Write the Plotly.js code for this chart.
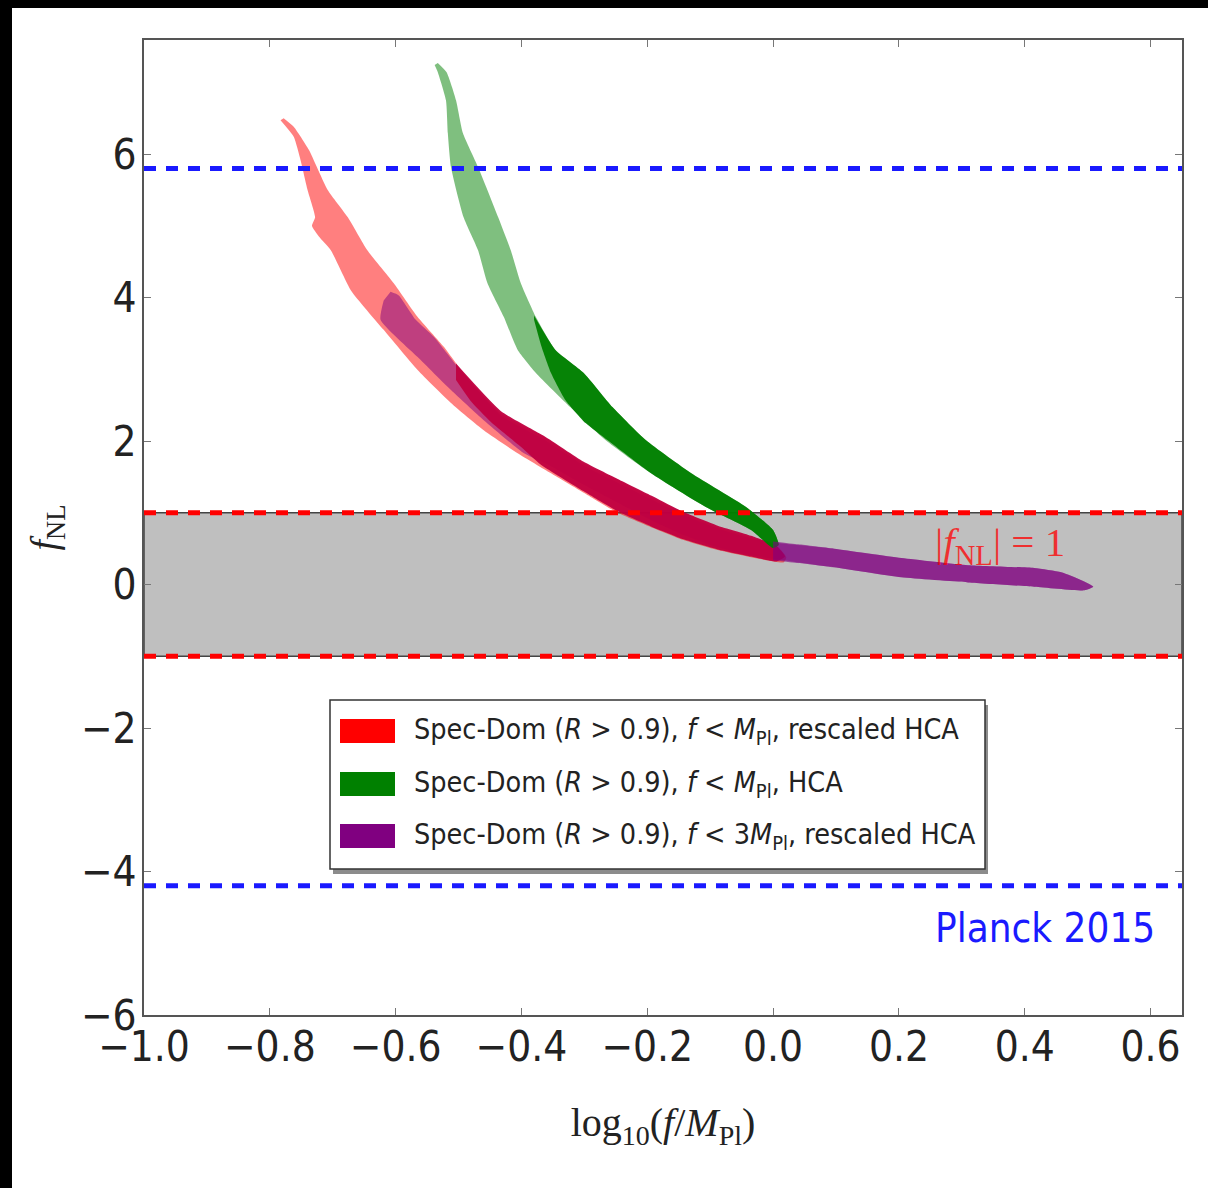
<!DOCTYPE html>
<html>
<head>
<meta charset="utf-8">
<script src="https://cdn.plot.ly/plotly-3.0.1.min.js"></script>
<style>
  html, body { margin: 0; padding: 0; background: #000; width: 1208px; height: 1188px; overflow: hidden; }
  #plot { position: absolute; left: 12px; top: 8px; width: 1196px; height: 1180px; background: #fff; }
</style>
</head>
<body>
<div id="plot"></div>
<script>
// ---------------- data ----------------
// Spec-Dom, f < M_Pl, rescaled HCA  (outer envelope of the point cloud)
const redX = [-0.778,-0.762,-0.738,-0.708,-0.676,-0.645,-0.603,-0.565,-0.523,-0.496,-0.433,-0.364,-0.301,-0.247,-0.194,-0.142,-0.088,-0.035,0.008,0.021,
              0.017,-0.035,-0.088,-0.142,-0.194,-0.247,-0.301,-0.353,-0.406,-0.460,-0.512,-0.565,-0.619,-0.671,-0.703,-0.722,-0.733,-0.728,-0.740,-0.751,-0.762,-0.783];
const redY = [6.50,6.38,6.06,5.50,5.12,4.66,4.20,3.73,3.31,2.99,2.39,2.06,1.69,1.46,1.22,1.00,0.80,0.66,0.52,0.38,
              0.31,0.38,0.48,0.62,0.80,1.00,1.28,1.55,1.83,2.15,2.53,2.99,3.55,4.10,4.66,4.85,5.00,5.12,5.50,5.91,6.24,6.47];
// dense core of the same cloud
const redCoreX = [-0.504,-0.433,-0.364,-0.301,-0.247,-0.194,-0.142,-0.088,-0.035,0.005,0.019,
                  0.005,-0.035,-0.088,-0.142,-0.194,-0.247,-0.301,-0.369,-0.401,-0.449,-0.480,-0.504];
const redCoreY = [3.08,2.42,2.07,1.71,1.47,1.24,1.01,0.82,0.68,0.54,0.39,
                  0.32,0.39,0.49,0.63,0.81,1.02,1.30,1.67,1.92,2.27,2.55,2.85];

// Spec-Dom, f < M_Pl, HCA
const greenX = [-0.533,-0.519,-0.504,-0.493,-0.469,-0.437,-0.417,-0.401,-0.377,-0.346,-0.301,-0.255,-0.202,-0.130,-0.043,0.000,0.009,
                0.000,-0.035,-0.107,-0.194,-0.266,-0.322,-0.377,-0.406,-0.428,-0.454,-0.469,-0.492,-0.512,-0.517,-0.520,-0.533,-0.538];
const greenY = [7.27,7.14,6.75,6.29,5.82,5.12,4.66,4.20,3.73,3.27,2.95,2.47,2.01,1.55,1.08,0.76,0.55,
                0.51,0.76,1.08,1.55,2.01,2.47,2.95,3.27,3.73,4.20,4.66,5.12,5.82,6.29,6.75,7.14,7.24];
const greenCoreX = [-0.380,-0.346,-0.301,-0.255,-0.202,-0.130,-0.043,0.000,0.009,
                    0.000,-0.035,-0.107,-0.194,-0.263,-0.298,-0.330,-0.353,-0.369,-0.380];
const greenCoreY = [3.75,3.27,2.95,2.47,2.01,1.55,1.08,0.76,0.55,
                    0.51,0.76,1.08,1.55,2.01,2.25,2.57,2.95,3.34,3.69];

// Spec-Dom, f < 3 M_Pl, rescaled HCA
const purpleX = [-0.608,-0.595,-0.568,-0.539,-0.500,-0.433,-0.364,-0.301,-0.247,-0.194,-0.142,-0.088,-0.035,0.008,0.097,0.204,0.310,0.415,0.458,0.490,0.509,
                 0.495,0.415,0.310,0.204,0.097,0.017,-0.035,-0.088,-0.142,-0.194,-0.247,-0.301,-0.353,-0.396,-0.460,-0.512,-0.565,-0.624,-0.619];
const purpleY = [4.08,4.03,3.69,3.45,3.02,2.36,2.02,1.66,1.42,1.19,0.97,0.78,0.64,0.58,0.50,0.37,0.27,0.23,0.17,0.06,-0.03,
                 -0.08,-0.03,0.03,0.10,0.24,0.34,0.41,0.52,0.69,0.90,1.14,1.39,1.65,1.83,2.29,2.71,3.17,3.69,3.96];
const purpleCoreX = [0.000,0.040,0.097,0.204,0.310,0.415,0.458,0.490,0.509,
                     0.495,0.415,0.310,0.204,0.097,0.040,0.000];
const purpleCoreY = [0.60,0.56,0.50,0.37,0.27,0.23,0.17,0.06,-0.03,
                     -0.08,-0.03,0.03,0.10,0.24,0.30,0.34];

const planckBounds = [5.8, -4.2];   // Planck 2015: f_NL = 0.8 +- 5.0
const unityBounds  = [1, -1];       // |f_NL| = 1

const xTickVals = [-1.0,-0.8,-0.6,-0.4,-0.2,0.0,0.2,0.4,0.6];
const xTickText = ['\u22121.0','\u22120.8','\u22120.6','\u22120.4','\u22120.2','0.0','0.2','0.4','0.6'];
const yTickVals = [-6,-4,-2,0,2,4,6];
const yTickText = ['\u22126','\u22124','\u22122','0','2','4','6'];

const seriesNames = [
  'Spec-Dom (<i>R</i> &gt; 0.9), <i>f</i> &lt; <i>M</i><sub>Pl</sub>, rescaled HCA',
  'Spec-Dom (<i>R</i> &gt; 0.9), <i>f</i> &lt; <i>M</i><sub>Pl</sub>, HCA',
  'Spec-Dom (<i>R</i> &gt; 0.9), <i>f</i> &lt; 3<i>M</i><sub>Pl</sub>, rescaled HCA'
];
const seriesColors = ['#ff0000', '#008000', '#800080'];

// ---------------- styling ----------------
const SANS_C = 'DejaVu Sans Condensed, DejaVu Sans, sans-serif';
const SERIF  = 'Liberation Serif, DejaVu Serif, serif';

function band(x, y, color) {
  return { type: 'scatter', mode: 'lines', x: x, y: y, fill: 'toself',
           fillcolor: color, line: { width: 0, color: color, shape: 'spline', smoothing: 0.5 },
           hoverinfo: 'skip', showlegend: false };
}

const traces = [
  band(redX, redY, 'rgba(255,0,0,0.5)'),
  band(purpleX, purpleY, 'rgba(128,0,128,0.5)'),
  band(redCoreX, redCoreY, 'rgba(192,0,64,0.95)'),
  band(greenX, greenY, 'rgba(0,128,0,0.5)'),
  band(greenCoreX, greenCoreY, 'rgba(0,128,0,0.95)'),
  band(purpleCoreX, purpleCoreY, 'rgba(128,0,128,0.6)')
];

// plot-area geometry (page pixels) for legend placement
const M = { l: 132, t: 32, r: 26, b: 173 };
const W = 1196, H = 1180, OX = 12, OY = 8;
const PX0 = OX + M.l, PX1 = OX + W - M.r, PY0 = OY + M.t, PY1 = OY + H - M.b;
const px = v => (v - PX0) / (PX1 - PX0);
const py = v => (PY1 - v) / (PY1 - PY0);

const shapes = [
  { type: 'rect', xref: 'paper', yref: 'y', x0: 0, x1: 1, y0: unityBounds[1], y1: unityBounds[0],
    fillcolor: '#bfbfbf', line: { width: 1.5, color: '#444' }, layer: 'below' }
];
unityBounds.forEach(v => shapes.push({ type: 'line', xref: 'paper', yref: 'y', x0: 0, x1: 1, y0: v, y1: v,
  line: { color: '#ff0000', width: 5, dash: '12px,10px' }, layer: 'above' }));
planckBounds.forEach(v => shapes.push({ type: 'line', xref: 'paper', yref: 'y', x0: 0, x1: 1, y0: v, y1: v,
  line: { color: '#1a1aff', width: 5, dash: '12px,10px' }, layer: 'above' }));

// legend box (matplotlib style with shadow)
shapes.push({ type: 'rect', xref: 'paper', yref: 'paper', x0: px(333), x1: px(988), y0: py(705), y1: py(874),
  fillcolor: '#8c8c8c', line: { width: 0 }, layer: 'above' });
shapes.push({ type: 'rect', xref: 'paper', yref: 'paper', x0: px(330), x1: px(985), y0: py(700), y1: py(869),
  fillcolor: '#ffffff', line: { width: 1.5, color: '#333' }, layer: 'above' });
const rowY = [731, 784, 836];
const annotations = [];
seriesNames.forEach((name, i) => {
  shapes.push({ type: 'rect', xref: 'paper', yref: 'paper', x0: px(340), x1: px(395),
    y0: py(rowY[i] + 12), y1: py(rowY[i] - 12), fillcolor: seriesColors[i], line: { width: 0 }, layer: 'above' });
  annotations.push({ xref: 'paper', yref: 'paper', x: px(412), y: py(rowY[i]), xanchor: 'left', yanchor: 'middle',
    text: name, showarrow: false, font: { family: SANS_C, size: 28.5, color: '#222' } });
});
annotations.push({ xref: 'x', yref: 'y', x: 0.36, y: 0.55, xanchor: 'center', yanchor: 'middle', showarrow: false,
  text: '|<i>f</i><sub>NL</sub>| = 1', font: { family: SERIF, size: 41, color: 'rgba(255,0,0,0.75)' } });
annotations.push({ xref: 'x', yref: 'y', x: 0.611, y: -4.79, xanchor: 'right', yanchor: 'middle', showarrow: false,
  text: 'Planck 2015', font: { family: SANS_C, size: 40, color: '#1a1aff' } });

const axisCommon = {
  showgrid: false, zeroline: false, showline: true, linecolor: '#555', linewidth: 2,
  mirror: 'ticks', ticks: 'inside', ticklen: 7, tickwidth: 1, tickcolor: '#777',
  tickfont: { family: SANS_C, size: 42, color: '#222' }, tickmode: 'array'
};

const layout = {
  width: W, height: H, margin: M,
  paper_bgcolor: '#ffffff', plot_bgcolor: '#ffffff',
  showlegend: false,
  xaxis: Object.assign({}, axisCommon, {
    range: [-1.0, 0.65], tickvals: xTickVals, ticktext: xTickText, ticklabelstandoff: -6,
    title: { text: 'log<sub>10</sub>(<i>f</i>/<i>M</i><sub>Pl</sub>)', standoff: 38,
             font: { family: SERIF, size: 40, color: '#222' } }
  }),
  yaxis: Object.assign({}, axisCommon, {
    range: [-6, 7.59], tickvals: yTickVals, ticktext: yTickText, ticklabelstandoff: -3,
    title: { text: '<i>f</i><sub>NL</sub>', standoff: 12, font: { family: SERIF, size: 38, color: '#222' } }
  }),
  shapes: shapes,
  annotations: annotations
};

Plotly.newPlot('plot', traces, layout, { staticPlot: true, displayModeBar: false });
</script>
</body>
</html>
